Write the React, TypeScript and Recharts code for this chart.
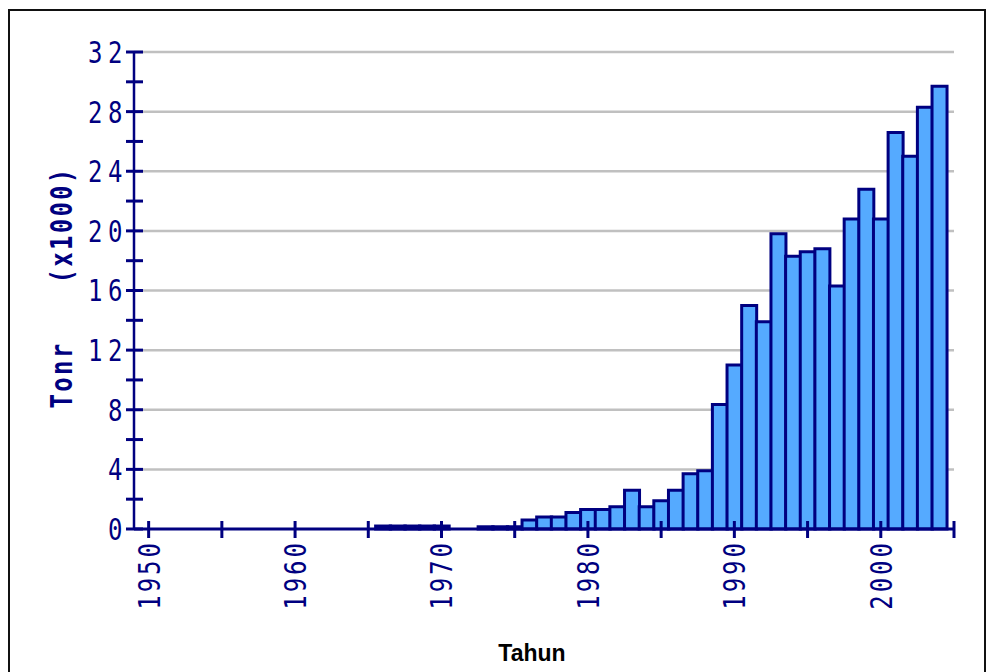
import { BarChart, Bar, XAxis, YAxis, CartesianGrid, Label } from 'recharts'

const NAVY = '#000080'
const PIXEL_FONT = '"DejaVu Sans Mono", monospace'

const YEARS = [
  1950, 1951, 1952, 1953, 1954, 1955, 1956, 1957, 1958, 1959,
  1960, 1961, 1962, 1963, 1964, 1965, 1966, 1967, 1968, 1969,
  1970, 1971, 1972, 1973, 1974, 1975, 1976, 1977, 1978, 1979,
  1980, 1981, 1982, 1983, 1984, 1985, 1986, 1987, 1988, 1989,
  1990, 1991, 1992, 1993, 1994, 1995, 1996, 1997, 1998, 1999,
  2000, 2001, 2002, 2003, 2004,
]

// ton (x1000)
const TONS = [
  0, 0, 0, 0, 0, 0, 0, 0, 0, 0,
  0, 0, 0, 0, 0, 0, 0.2, 0.2, 0.2, 0.2,
  0.2, 0, 0, 0.15, 0.15, 0.15, 0.6, 0.8, 0.8, 1.1,
  1.3, 1.3, 1.5, 2.6, 1.5, 1.9, 2.6, 3.7, 3.9, 8.35,
  11.0, 15.0, 13.9, 19.8, 18.3, 18.6, 18.8, 16.3, 20.8, 22.8,
  20.8, 26.6, 25.0, 28.3, 29.7,
]

const X_TICKS = [1950, 1955, 1960, 1965, 1970, 1975, 1980, 1985, 1990, 1995, 2000, 2005]
const X_LABELS = [1950, 1960, 1970, 1980, 1990, 2000]
const Y_TICKS = [0, 2, 4, 6, 8, 10, 12, 14, 16, 18, 20, 22, 24, 26, 28, 30, 32]
const Y_LABELS = [0, 4, 8, 12, 16, 20, 24, 28, 32]
const GRID = [4, 8, 12, 16, 20, 24, 28, 32]

const data = YEARS.map((year, i) => ({ year, tons: TONS[i] }))

function XTick(props: any) {
  const { x, y, payload } = props
  const v = payload.value
  return (
    <g>
      <line x1={x} x2={x} y1={y - 8} y2={y + 9} stroke={NAVY} strokeWidth={3} />
      {X_LABELS.includes(v) && (
        <g transform={`translate(${x},${y + 11}) rotate(-90) scale(1,1.25)`}>
          <text textAnchor="end" dy="0.365em" fill={NAVY} fontFamily={PIXEL_FONT} fontSize={24} letterSpacing={3}>
            {v}
          </text>
        </g>
      )}
    </g>
  )
}

function YTick(props: any) {
  const { x, y, payload } = props
  const v = payload.value
  return (
    <g>
      <line x1={x - 8} x2={x + 9} y1={y} y2={y} stroke={NAVY} strokeWidth={3} />
      {Y_LABELS.includes(v) && (
        <g transform={`translate(${x - 6},${y}) scale(1,1.25)`}>
          <text textAnchor="end" dy="0.365em" fill={NAVY} fontFamily={PIXEL_FONT} fontSize={24} letterSpacing={5.5}>
            {v}
          </text>
        </g>
      )}
    </g>
  )
}

function YTitle(props: any) {
  const { x, y } = props.viewBox
  const txt = { textAnchor: 'middle' as const, dy: '0.365em' }
  return (
    <g fill={NAVY} fontFamily={PIXEL_FONT} fontWeight="bold" fontSize={24} letterSpacing={2.3}>
      <g transform={`translate(${x + 51},${y + 323}) rotate(-90) scale(1,1.25)`}>
        <text {...txt}>Tonr</text>
      </g>
      <g transform={`translate(${x + 51},${y + 173}) rotate(-90) scale(1,1.25)`}>
        <text {...txt}>(x1000)</text>
      </g>
    </g>
  )
}

function XTitle(props: any) {
  const { x, y } = props.viewBox
  return (
    <text x={x + 398} y={y + 132} textAnchor="middle" fill="#000" fontFamily='"Liberation Sans", Arial, sans-serif' fontWeight="bold" fontSize={23}>
      Tahun
    </text>
  )
}

export default function App() {
  return (
    <div
      style={{
        position: 'fixed',
        left: 8,
        top: 9,
        width: 974,
        height: 700,
        border: '2px solid #111',
        background: '#fff',
      }}
    >
      <BarChart
        width={974}
        height={690}
        data={data}
        margin={{ top: 41, right: 30, left: 0, bottom: 32 }}
        barCategoryGap={0}
        barGap={0}
      >
        <CartesianGrid vertical={false} horizontalValues={GRID} stroke="#c0c0c0" strokeWidth={2.5} />
        <XAxis
          dataKey="year"
          type="number"
          domain={[1949, 2005]}
          ticks={X_TICKS}
          interval={0}
          height={140}
          tickSize={0}
          tickMargin={0}
          tickLine={false}
          axisLine={{ stroke: NAVY, strokeWidth: 3 }}
          tick={(p: any) => <XTick {...p} />}
        >
          <Label content={(p: any) => <XTitle {...p} />} />
        </XAxis>
        <YAxis
          type="number"
          domain={[0, 32]}
          ticks={Y_TICKS}
          interval={0}
          width={124}
          tickSize={0}
          tickMargin={0}
          tickLine={false}
          axisLine={{ stroke: NAVY, strokeWidth: 2.5 }}
          tick={(p: any) => <YTick {...p} />}
        >
          <Label content={(p: any) => <YTitle {...p} />} />
        </YAxis>
        <Bar dataKey="tons" fill="#55aaff" stroke={NAVY} strokeWidth={3} isAnimationActive={false} />
      </BarChart>
    </div>
  )
}
